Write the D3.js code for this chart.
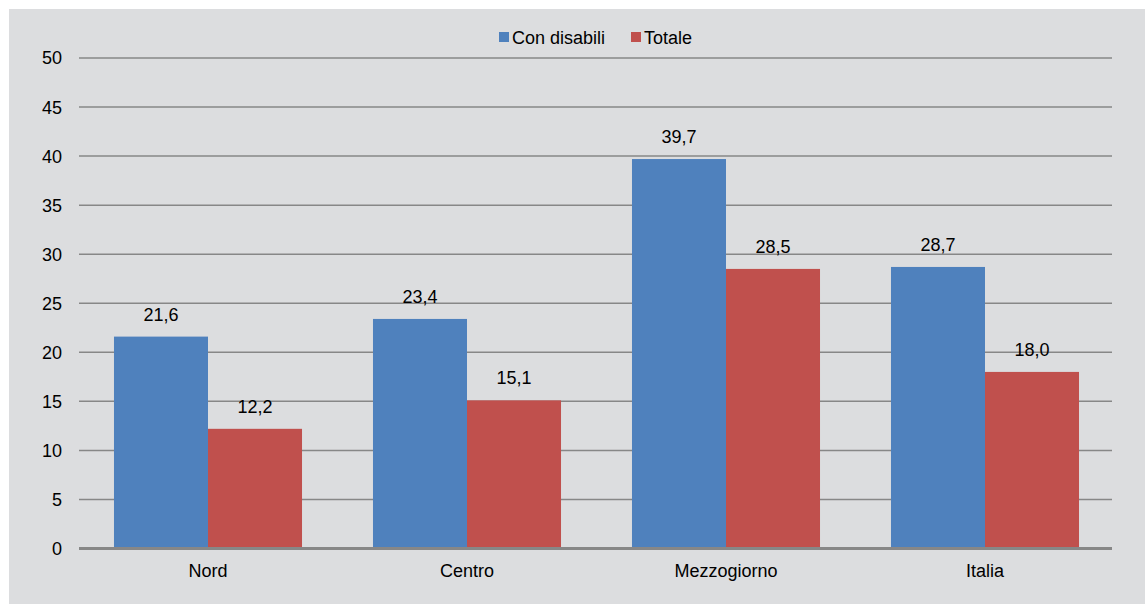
<!DOCTYPE html>
<html>
<head>
<meta charset="utf-8">
<script src="https://cdn.jsdelivr.net/npm/d3@7/dist/d3.min.js"></script>
<style>
  html, body { margin: 0; padding: 0; background: #ffffff; }
  svg { display: block; }
  text { font-family: "Liberation Sans", Arial, sans-serif; fill: #000; }
</style>
</head>
<body>
<svg id="chart" width="1146" height="605"></svg>
<script>
// Regions and series
const categories = ["Nord", "Centro", "Mezzogiorno", "Italia"];
const seriesNames = ["Con disabili", "Totale"];
const conDisabili = [21.6, 23.4, 39.7, 28.7];
const totale = [12.2, 15.1, 28.5, 18.0];
const yTicks = [0, 5, 10, 15, 20, 25, 30, 35, 40, 45, 50];
const seriesColors = ["#4f81bd", "#c0504d"];

const svg = d3.select("#chart");
const fmt = v => d3.format(".1f")(v).replace(".", ",");

// Panel background
svg.append("rect")
  .attr("x", 9).attr("y", 9)
  .attr("width", 1136).attr("height", 595)
  .attr("fill", "#dcdddf");

const plotLeft = 79, plotRight = 1112;
const y = d3.scaleLinear().domain([0, 50]).range([548.5, 58]);

const x0 = d3.scaleBand()
  .domain(categories)
  .range([78.5, 1114.5])
  .paddingInner(0.274)
  .paddingOuter(0.137);

const x1 = d3.scaleBand()
  .domain(seriesNames)
  .range([0, x0.bandwidth()]);

// Horizontal gridlines
svg.append("g")
  .selectAll("line")
  .data(yTicks.filter(t => t > 0))
  .join("line")
  .attr("x1", plotLeft).attr("x2", plotRight)
  .attr("y1", d => y(d)).attr("y2", d => y(d))
  .attr("stroke", "#878787")
  .attr("stroke-width", 1.5);

// Y-axis tick labels
svg.append("g")
  .selectAll("text")
  .data(yTicks)
  .join("text")
  .attr("x", 62)
  .attr("y", d => y(d))
  .attr("dy", "0.36em")
  .attr("text-anchor", "end")
  .style("font-size", "18px")
  .text(d => d);

// Bars
const rows = categories.map((c, i) => ({
  category: c,
  values: [
    { series: seriesNames[0], value: conDisabili[i], color: seriesColors[0] },
    { series: seriesNames[1], value: totale[i], color: seriesColors[1] }
  ]
}));

const groups = svg.append("g")
  .selectAll("g")
  .data(rows)
  .join("g")
  .attr("transform", d => `translate(${x0(d.category)},0)`);

groups.selectAll("rect")
  .data(d => d.values)
  .join("rect")
  .attr("x", d => x1(d.series))
  .attr("y", d => y(d.value))
  .attr("width", x1.bandwidth())
  .attr("height", d => y(0) - y(d.value))
  .attr("fill", d => d.color);

// Value labels
groups.selectAll("text")
  .data(d => d.values)
  .join("text")
  .attr("x", d => x1(d.series) + x1.bandwidth() / 2)
  .attr("y", d => y(d.value) - 16)
  .attr("text-anchor", "middle")
  .style("font-size", "18px")
  .text(d => fmt(d.value));

// Baseline
svg.append("line")
  .attr("x1", plotLeft).attr("x2", plotRight)
  .attr("y1", y(0)).attr("y2", y(0))
  .attr("stroke", "#878787")
  .attr("stroke-width", 3);

// Category labels
svg.append("g")
  .selectAll("text")
  .data(categories)
  .join("text")
  .attr("x", d => x0(d) + x0.bandwidth() / 2)
  .attr("y", 577)
  .attr("text-anchor", "middle")
  .style("font-size", "18px")
  .text(d => d);

// Legend
const legendItems = [
  { name: seriesNames[0], color: seriesColors[0], x: 499 },
  { name: seriesNames[1], color: seriesColors[1], x: 631 }
];
const legend = svg.append("g")
  .selectAll("g")
  .data(legendItems)
  .join("g")
  .attr("transform", d => `translate(${d.x},32)`);
legend.append("rect")
  .attr("width", 10).attr("height", 10)
  .attr("fill", d => d.color);
legend.append("text")
  .attr("x", 13)
  .attr("y", 11.5)
  .style("font-size", "18px")
  .text(d => d.name);
</script>
</body>
</html>
